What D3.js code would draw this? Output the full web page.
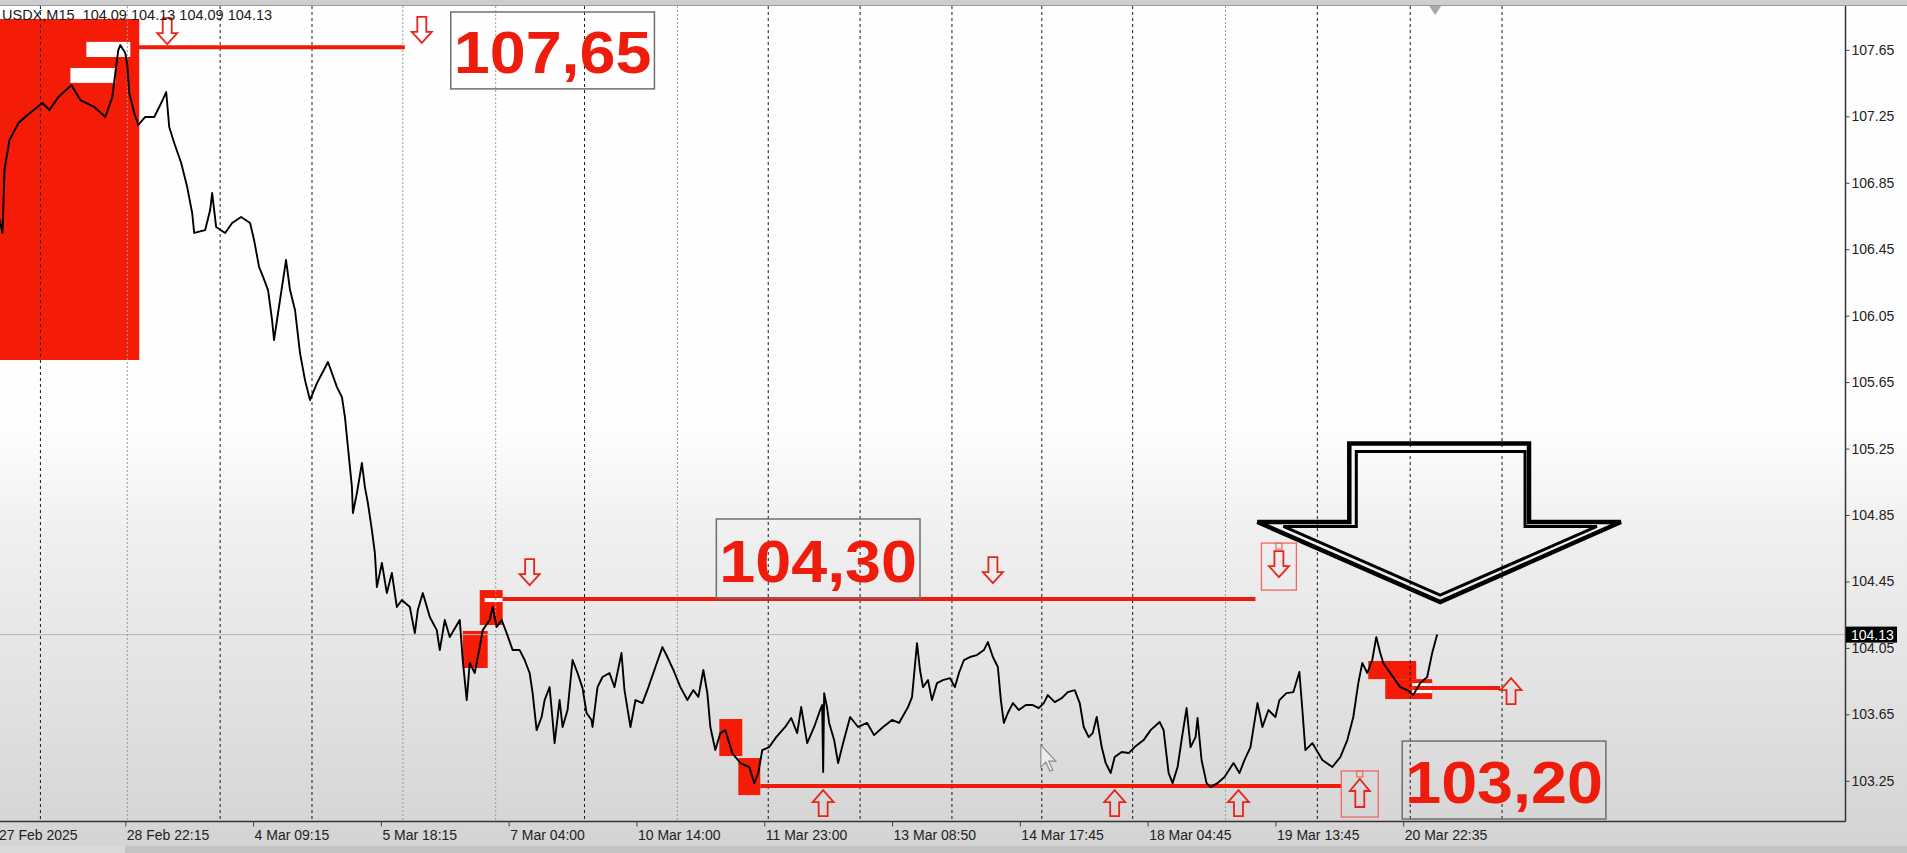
<!DOCTYPE html>
<html><head><meta charset="utf-8">
<script src="https://cdn.jsdelivr.net/npm/d3@7"></script>
<style>html,body{margin:0;padding:0;overflow:hidden;background:#fff}</style>
</head><body>
<svg id="chart" width="1907" height="853"></svg>
<script>
// ---------------- DATA ----------------
const symbolTitle = "USDX,M15  104.09 104.13 104.09 104.13";
const lastPrice = 104.13;

// price path: [bar index (M15), price]
const pricePath = [
[2,106.632],[5,106.548],[7,106.927],[12,107.107],[21,107.210],[30,107.258],[45,107.330],[52,107.288],[61,107.366],[74,107.438],
[83,107.348],[97,107.306],[108,107.246],[115,107.366],[118,107.511],[121,107.649],[123,107.679],[128,107.631],[130,107.559],[132,107.390],
[137,107.270],[141,107.198],[148,107.246],[157,107.246],[164,107.330],[169,107.396],[172,107.186],[177,107.089],[184,106.969],[190,106.824],
[195,106.668],[197,106.548],[208,106.565],[213,106.686],[215,106.788],[219,106.584],[228,106.548],[235,106.608],[244,106.644],[253,106.608],
[257,106.505],[262,106.343],[266,106.283],[271,106.204],[275,106.024],[277,105.903],[281,106.066],[286,106.264],[289,106.385],[293,106.204],
[298,106.084],[303,105.825],[308,105.662],[313,105.542],[320,105.644],[331,105.771],[340,105.620],[345,105.560],[348,105.440],[351,105.259],
[355,105.018],[356,104.862],[360,104.982],[365,105.163],[368,105.018],[371,104.922],[375,104.759],[378,104.621],[380,104.416],[385,104.561],
[390,104.380],[395,104.501],[400,104.296],[405,104.338],[413,104.296],[418,104.139],[421,104.278],[426,104.380],[433,104.236],[440,104.157],
[443,104.037],[448,104.218],[453,104.115],[463,104.218],[466,103.977],[470,103.736],[473,103.959],[478,103.899],[483,104.055],[486,104.157],
[493,104.218],[496,104.296],[500,104.176],[505,104.218],[510,104.139],[516,104.037],[523,104.037],[528,103.977],[533,103.899],[536,103.778],
[540,103.555],[545,103.634],[548,103.736],[553,103.814],[556,103.616],[558,103.477],[563,103.736],[566,103.574],[571,103.676],[576,103.977],
[581,103.899],[586,103.808],[590,103.658],[595,103.616],[596,103.574],[601,103.814],[606,103.875],[613,103.899],[618,103.814],[625,104.019],
[628,103.796],[634,103.574],[639,103.736],[646,103.718],[652,103.814],[659,103.935],[666,104.055],[671,103.995],[677,103.917],[684,103.814],
[691,103.736],[697,103.796],[702,103.754],[707,103.917],[711,103.778],[714,103.574],[719,103.435],[724,103.537],[729,103.555],[736,103.417],
[744,103.357],[753,103.333],[758,103.236],[762,103.297],[766,103.435],[773,103.453],[780,103.513],[789,103.574],[795,103.628],[801,103.537],
[805,103.694],[811,103.477],[818,103.574],[824,103.676],[826,103.706],[827,103.303],[828,103.778],[831,103.688],[833,103.598],[838,103.495],
[842,103.357],[847,103.477],[854,103.634],[862,103.574],[871,103.598],[878,103.525],[887,103.574],[896,103.616],[903,103.598],[912,103.694],
[916,103.754],[921,104.079],[924,103.917],[927,103.814],[932,103.856],[936,103.736],[941,103.838],[947,103.856],[954,103.868],[959,103.814],
[963,103.899],[968,103.977],[974,103.995],[981,104.007],[988,104.037],[992,104.085],[997,103.995],[1002,103.935],[1005,103.736],[1008,103.598],
[1012,103.658],[1017,103.718],[1023,103.676],[1030,103.706],[1037,103.706],[1043,103.688],[1048,103.718],[1052,103.766],[1059,103.724],[1066,103.748],
[1072,103.784],[1079,103.796],[1084,103.718],[1088,103.574],[1093,103.513],[1097,103.537],[1101,103.634],[1106,103.453],[1110,103.357],[1115,103.297],
[1119,103.393],[1126,103.423],[1133,103.417],[1139,103.453],[1148,103.495],[1155,103.555],[1164,103.604],[1168,103.555],[1173,103.297],[1177,103.236],
[1182,103.333],[1186,103.495],[1191,103.688],[1195,103.453],[1200,103.513],[1202,103.628],[1206,103.375],[1211,103.236],[1215,103.212],[1222,103.236],
[1229,103.273],[1238,103.357],[1244,103.297],[1249,103.375],[1255,103.453],[1262,103.718],[1267,103.574],[1273,103.676],[1280,103.634],[1284,103.736],
[1291,103.778],[1298,103.784],[1304,103.905],[1307,103.676],[1310,103.435],[1317,103.477],[1327,103.375],[1337,103.333],[1345,103.393],[1352,103.495],
[1358,103.634],[1363,103.838],[1367,103.959],[1372,103.899],[1377,103.977],[1381,104.115],[1385,104.019],[1388,103.959],[1395,103.899],[1405,103.814],
[1412,103.796],[1418,103.766],[1425,103.838],[1432,103.875],[1437,104.019],[1442,104.13]
];

// axes
const yTickValues = [107.65,107.25,106.85,106.45,106.05,105.65,105.25,104.85,104.45,104.05,103.65,103.25];
const xTickBars   = [0,128,256,384,512,640,768,896,1024,1152,1280,1408];
const xTickLabels = ["27 Feb 2025","28 Feb 22:15","4 Mar 09:15","5 Mar 18:15","7 Mar 04:00","10 Mar 14:00",
                     "11 Mar 23:00","13 Mar 08:50","14 Mar 17:45","18 Mar 04:45","19 Mar 13:45","20 Mar 22:35"];
const separatorBars = [43,223,315,588,772,864,956,1046,1137,1322,1415,1507];
const gridBars      = [130,406,499,681,1230];

// annotations (bars / prices)
const zones = [
  {b0:0,b1:142,p0:105.783,p1:107.836},
  {b0:483,b1:506,p0:104.188,p1:104.398},
  {b0:466,b1:491,p0:103.929,p1:104.152},
  {b0:723,b1:746,p0:103.399,p1:103.622},
  {b0:742,b1:764,p0:103.164,p1:103.387},
  {b0:1373,b1:1421,p0:103.862,p1:103.971},
  {b0:1390,b1:1437,p0:103.742,p1:103.862}
];
const whiteBoxes = [
  {b0:89,b1:133,p0:107.607,p1:107.698},
  {b0:73,b1:118,p0:107.451,p1:107.541},
  {b0:488,b1:506,p0:104.326,p1:104.350},
  {b0:1417,b1:1437,p0:103.778,p1:103.838}
];
const levels = [
  {price:107.665,b0:141,b1:408},
  {price:104.345,b0:506,b1:1260},
  {price:103.218,b0:764,b1:1346},
  {price:103.808,b0:1417,b1:1505}
];
const downArrows = [{b:170,p:107.685},{b:425,p:107.692},{b:533,p:104.428},{b:997,p:104.440}];
const upArrows   = [{b:827,p:103.194},{b:1119,p:103.194},{b:1243,p:103.194},{b:1516,p:103.868}];
const framedArrows = [
  {b0:1266,b1:1301,p0:104.398,p1:104.681,dir:"down"},
  {b0:1346,b1:1383,p0:103.032,p1:103.309,dir:"up"}
];
const textBoxes = [
  {text:"107,65",b0:454,b1:658,p0:107.415,p1:107.878},
  {text:"104,30",b0:720,b1:924,p0:104.350,p1:104.826},
  {text:"103,20",b0:1407,b1:1611,p0:103.020,p1:103.489}
];
const bigArrowOuter = [[1354,105.280],[1354,104.808],[1262,104.808],[1445,104.326],[1626,104.808],[1534,104.808],[1534,105.280]];
const bigArrowInner = [[1361,105.232],[1361,104.781],[1288,104.781],[1445,104.368],[1602,104.781],[1530,104.781],[1530,105.232]];
const cursorAt = {b:1045,p:103.465};
const shiftMarkerBar = 1440;

// ---------------- DRAW ----------------
const W = 1907, H = 853;
const plot = {left:0, right:1845, top:6, bottom:821};
const x = d3.scaleLinear().domain([0,1850]).range([-2.5,1844.5]);
const y = d3.scaleLinear().domain([103.008,107.914]).range([plot.bottom, plot.top]);

const svg = d3.select("#chart");
const defs = svg.append("defs");
const g = defs.append("linearGradient").attr("id","bg").attr("x1",0).attr("y1",0).attr("x2",0).attr("y2",1);
[[0,"#ffffff"],[0.5,"#fefefe"],[0.62,"#f0f0f0"],[0.8,"#e3e3e3"],[1,"#d3d3d3"]]
  .forEach(([o,c])=>g.append("stop").attr("offset",o).attr("stop-color",c));
defs.append("clipPath").attr("id","plotClip").append("rect")
  .attr("x",plot.left).attr("y",plot.top).attr("width",plot.right-plot.left).attr("height",plot.bottom-plot.top);

svg.append("rect").attr("width",W).attr("height",H).attr("fill","url(#bg)");
// window strips
svg.append("rect").attr("x",0).attr("y",0).attr("width",W).attr("height",5).attr("fill","#cdcdcd");
svg.append("rect").attr("x",0).attr("y",846).attr("width",125).attr("height",7).attr("fill","#d9d9d9");
svg.append("rect").attr("x",125).attr("y",846).attr("width",W-125).attr("height",7).attr("fill","#c3c3c3");

const P = svg.append("g").attr("clip-path","url(#plotClip)");

// red zones
P.selectAll(".zone").data(zones).join("rect")
  .attr("x",d=>x(d.b0)).attr("y",d=>y(d.p1))
  .attr("width",d=>x(d.b1)-x(d.b0)).attr("height",d=>y(d.p0)-y(d.p1))
  .attr("fill","#f41c06");
P.selectAll(".wbox").data(whiteBoxes).join("rect")
  .attr("x",d=>x(d.b0)).attr("y",d=>y(d.p1))
  .attr("width",d=>x(d.b1)-x(d.b0)).attr("height",d=>y(d.p0)-y(d.p1))
  .attr("fill","#ffffff");

// current price line
P.append("line").attr("x1",plot.left).attr("x2",plot.right)
  .attr("y1",y(lastPrice)).attr("y2",y(lastPrice)).attr("stroke","#b4b4b4").attr("stroke-width",1);

// grid + separators
P.selectAll(".grid").data(gridBars).join("line")
  .attr("x1",d=>x(d)).attr("x2",d=>x(d)).attr("y1",plot.top).attr("y2",plot.bottom)
  .attr("stroke","#9a9a9a").attr("stroke-width",1).attr("stroke-dasharray","2,2");
P.selectAll(".sep").data(separatorBars).join("line")
  .attr("x1",d=>x(d)).attr("x2",d=>x(d)).attr("y1",plot.top).attr("y2",plot.bottom)
  .attr("stroke","#1a1a1a").attr("stroke-width",1).attr("stroke-dasharray","3,3");

// level lines
P.selectAll(".lvl").data(levels).join("line")
  .attr("x1",d=>x(d.b0)).attr("x2",d=>x(d.b1)).attr("y1",d=>y(d.price)).attr("y2",d=>y(d.price))
  .attr("stroke","#f01c0a").attr("stroke-width",4);

// text boxes
const tb = P.selectAll(".tb").data(textBoxes).join("g");
tb.append("rect").attr("x",d=>x(d.b0)).attr("y",d=>y(d.p1))
  .attr("width",d=>x(d.b1)-x(d.b0)).attr("height",d=>y(d.p0)-y(d.p1))
  .attr("fill","none").attr("stroke","#6e6e6e").attr("stroke-width",1.5);
tb.append("text").attr("x",d=>x(d.b0)+3).attr("y",d=>y(d.p0)-16)
  .attr("font-family","'Liberation Sans', Arial, sans-serif").attr("font-weight","bold")
  .attr("font-size",60).attr("fill","#ee1c0c")
  .attr("textLength",d=>x(d.b1)-x(d.b0)-6).attr("lengthAdjust","spacingAndGlyphs")
  .text(d=>d.text);

// arrows
function arrowPts(cx, tipY, dir, w, h, sw, hh){
  const s = dir==="down" ? -1 : 1; // down: body above tip
  const base = tipY + s*h, neck = tipY + s*hh;
  return [[cx-sw/2,base],[cx+sw/2,base],[cx+sw/2,neck],[cx+w/2,neck],[cx,tipY],[cx-w/2,neck],[cx-sw/2,neck]];
}
const arrowLine = d3.line().curve(d3.curveLinearClosed);
const aStyle = sel => sel.attr("fill","none").attr("stroke","#e8251a").attr("stroke-width",1.8).attr("stroke-linejoin","miter");
P.selectAll(".da").data(downArrows).join("path")
  .attr("d",d=>arrowLine(arrowPts(x(d.b),y(d.p),"down",20,26,9,11))).call(aStyle);
P.selectAll(".ua").data(upArrows).join("path")
  .attr("d",d=>arrowLine(arrowPts(x(d.b),y(d.p),"up",21,26,9,12))).call(aStyle);
const fa = P.selectAll(".fa").data(framedArrows).join("g");
fa.append("rect").attr("x",d=>x(d.b0)).attr("y",d=>y(d.p1))
  .attr("width",d=>x(d.b1)-x(d.b0)).attr("height",d=>y(d.p0)-y(d.p1))
  .attr("fill","none").attr("stroke","#ee6a5e").attr("stroke-width",1.3);
fa.append("rect").attr("x",d=>(x(d.b0)+x(d.b1))/2-3).attr("y",d=>y(d.p1))
  .attr("width",6).attr("height",6).attr("fill","none").attr("stroke","#ee6a5e").attr("stroke-width",1.2);
fa.append("path").attr("d",d=>{
  const cx=(x(d.b0)+x(d.b1))/2, top=y(d.p1);
  return d.dir==="down" ? arrowLine(arrowPts(cx,top+34,"down",20,26,9,11))
                        : arrowLine(arrowPts(cx,top+8,"up",20,28,9,12));
}).call(aStyle);

// price line
P.append("path").datum(pricePath)
  .attr("d",d3.line().x(d=>x(d[0])).y(d=>y(d[1])))
  .attr("fill","none").attr("stroke","#000").attr("stroke-width",1.9).attr("stroke-linejoin","round");

// big hollow arrow
const bl = d3.line().x(d=>x(d[0])).y(d=>y(d[1])).curve(d3.curveLinearClosed);
P.append("path").attr("d",bl(bigArrowOuter)).attr("fill","none").attr("stroke","#000").attr("stroke-width",4.5).attr("stroke-linejoin","miter").attr("stroke-miterlimit",3);
P.append("path").attr("d",bl(bigArrowInner)).attr("fill","none").attr("stroke","#000").attr("stroke-width",3).attr("stroke-linejoin","miter").attr("stroke-miterlimit",3);

// mouse cursor
const cur = [[0,0],[0,22],[5,17],[9,26],[12,25],[8,16],[15,16]];
P.append("path").attr("transform",`translate(${x(cursorAt.b)},${y(cursorAt.p)})`)
  .attr("d",arrowLine(cur)).attr("fill","#ececec").attr("stroke","#8c8c8c").attr("stroke-width",1.2);

// shift marker
svg.append("path").attr("d",arrowLine([[x(shiftMarkerBar)-6,plot.top],[x(shiftMarkerBar)+6,plot.top],[x(shiftMarkerBar),plot.top+9]]))
  .attr("fill","#a8a8a8");

// title
svg.append("text").attr("x",2).attr("y",20).style("white-space","pre")
  .attr("font-family","'Liberation Sans', Arial, sans-serif").attr("font-size",14.5).attr("fill","#1a1a1a")
  .text(symbolTitle);

// borders
svg.append("line").attr("x1",0).attr("x2",W).attr("y1",5.5).attr("y2",5.5).attr("stroke","#9a9a9a");
svg.append("line").attr("x1",plot.left).attr("x2",plot.right+0.5).attr("y1",plot.bottom+0.5).attr("y2",plot.bottom+0.5).attr("stroke","#333").attr("stroke-width",1.5);
svg.append("line").attr("x1",plot.right+0.5).attr("x2",plot.right+0.5).attr("y1",plot.top).attr("y2",plot.bottom+0.5).attr("stroke","#333").attr("stroke-width",1.5);

// y axis
const ya = svg.append("g").attr("transform",`translate(${plot.right+0.5},0)`)
  .call(d3.axisRight(y).tickValues(yTickValues).tickFormat(d3.format(".2f")).tickSize(4).tickPadding(2));
ya.select(".domain").remove();
ya.selectAll("line").attr("stroke","#444");
ya.selectAll("text").attr("font-family","'Liberation Sans', Arial, sans-serif").attr("font-size",14).attr("fill","#222");

// price tag
svg.append("rect").attr("x",plot.right+1).attr("y",y(lastPrice)-8).attr("width",51).attr("height",16).attr("fill","#000");
svg.append("text").attr("x",plot.right+6).attr("y",y(lastPrice)).attr("dy","0.36em")
  .attr("font-family","'Liberation Sans', Arial, sans-serif").attr("font-size",14).attr("fill","#fff").text(d3.format(".2f")(lastPrice));

// x axis
const xa = svg.append("g").attr("transform",`translate(0,${plot.bottom+0.5})`)
  .call(d3.axisBottom(x).tickValues(xTickBars).tickFormat((d,i)=>xTickLabels[i]).tickSize(5).tickPadding(4));
xa.select(".domain").remove();
xa.selectAll("line").attr("stroke","#444");
xa.selectAll("text").attr("text-anchor","start").attr("dx",1)
  .attr("font-family","'Liberation Sans', Arial, sans-serif").attr("font-size",14).attr("fill","#222");
</script>
</body></html>
